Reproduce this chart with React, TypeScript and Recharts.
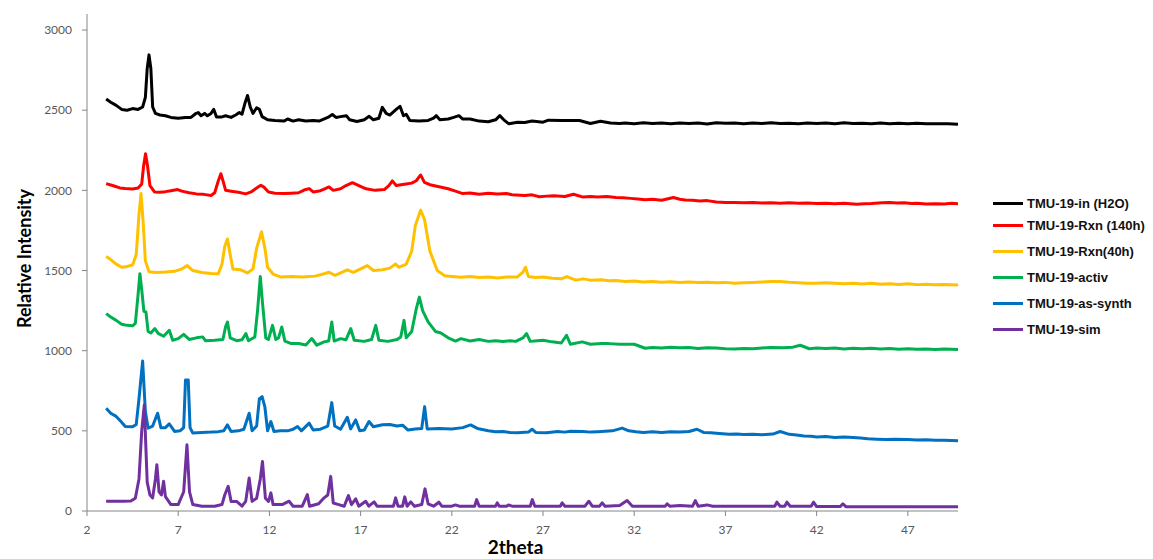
import React from 'react'
import { LineChart, Line, XAxis, YAxis } from 'recharts'

// 2theta / intensity pairs
const inH2O: [number, number][] = [
  [3.05, 2570], [3.3, 2550], [3.6, 2530], [3.9, 2505], [4.2, 2500], [4.5, 2510], [4.8, 2505],
  [5.05, 2520], [5.2, 2580], [5.3, 2760], [5.4, 2845], [5.5, 2760], [5.6, 2520], [5.75, 2480],
  [6.0, 2470], [6.3, 2465], [6.6, 2455], [7.0, 2450], [7.4, 2455], [7.7, 2455], [7.95, 2478],
  [8.1, 2485], [8.25, 2465], [8.45, 2480], [8.6, 2465], [8.8, 2480], [8.95, 2505], [9.1, 2458],
  [9.4, 2458], [9.6, 2465], [9.9, 2455], [10.15, 2470], [10.35, 2485], [10.5, 2475], [10.65, 2540],
  [10.8, 2592], [10.95, 2520], [11.1, 2480], [11.3, 2515], [11.45, 2505], [11.6, 2460], [11.9, 2440],
  [12.3, 2435], [12.8, 2432], [13.0, 2445], [13.3, 2432], [13.6, 2440], [14.0, 2432], [14.4, 2436],
  [14.72, 2432], [15.2, 2455], [15.45, 2473], [15.65, 2455], [15.9, 2460], [16.22, 2466], [16.4, 2440],
  [16.8, 2430], [17.2, 2440], [17.47, 2462], [17.7, 2440], [18.0, 2450], [18.19, 2518], [18.4, 2480],
  [18.6, 2470], [18.8, 2490], [19.0, 2510], [19.16, 2524], [19.35, 2465], [19.5, 2475], [19.7, 2435],
  [20.2, 2432], [20.7, 2436], [21.0, 2450], [21.15, 2466], [21.35, 2440], [21.8, 2445], [22.1, 2455],
  [22.39, 2466], [22.6, 2445], [23.0, 2445], [23.5, 2432], [24.0, 2428], [24.4, 2440], [24.63, 2466],
  [24.85, 2440], [25.13, 2415], [25.6, 2425], [26.0, 2423], [26.4, 2433], [27.0, 2425], [27.3, 2438],
  [28.0, 2436], [29.0, 2436], [29.6, 2417], [30.15, 2431], [30.7, 2420], [31.2, 2417], [31.5, 2420],
  [32.0, 2416], [32.5, 2421], [33.0, 2417], [33.5, 2420], [34.0, 2416], [34.5, 2420], [35.0, 2417],
  [35.5, 2420], [36.0, 2414], [36.5, 2422], [37.0, 2418], [37.5, 2420], [38.0, 2416], [38.5, 2420],
  [39.0, 2417], [39.5, 2421], [40.0, 2417], [40.5, 2419], [41.0, 2416], [41.5, 2420], [42.0, 2417],
  [42.5, 2420], [43.0, 2416], [43.5, 2421], [44.0, 2417], [44.5, 2419], [45.0, 2416], [45.5, 2420],
  [46.0, 2416], [46.5, 2419], [47.0, 2415], [47.5, 2418], [48.0, 2415], [48.5, 2416], [49.2, 2415],
  [49.75, 2413],
]

const rxn140h: [number, number][] = [
  [3.05, 2042], [3.4, 2030], [3.8, 2015], [4.1, 2011], [4.5, 2008], [4.8, 2015], [5.0, 2040],
  [5.1, 2150], [5.21, 2228], [5.32, 2150], [5.45, 2030], [5.7, 1990], [6.0, 1988], [6.3, 1992],
  [6.6, 1998], [6.97, 2005], [7.2, 1995], [7.6, 1985], [8.0, 1978], [8.4, 1975], [8.8, 1968],
  [9.0, 1985], [9.2, 2060], [9.34, 2104], [9.48, 2050], [9.6, 2000], [9.9, 1995], [10.3, 1988],
  [10.7, 1978], [11.0, 1990], [11.3, 2015], [11.53, 2032], [11.7, 2020], [11.95, 1990], [12.3, 1982],
  [12.8, 1980], [13.2, 1982], [13.6, 1985], [13.9, 2002], [14.18, 2011], [14.4, 1990], [14.8, 1998],
  [15.0, 2008], [15.27, 2021], [15.5, 2000], [15.9, 2010], [16.2, 2030], [16.55, 2048], [16.9, 2030],
  [17.3, 2010], [17.8, 2000], [18.3, 2005], [18.55, 2030], [18.74, 2059], [18.95, 2030], [19.4, 2038],
  [19.8, 2045], [20.05, 2060], [20.29, 2096], [20.5, 2050], [20.8, 2035], [21.3, 2022], [21.8, 2010],
  [22.2, 1995], [22.6, 1980], [23.0, 1983], [23.5, 1976], [24.0, 1982], [24.5, 1978], [25.0, 1980],
  [25.3, 1973], [26.0, 1968], [26.4, 1972], [26.8, 1960], [27.2, 1964], [27.6, 1966], [28.2, 1962],
  [28.67, 1976], [29.2, 1958], [29.6, 1962], [30.0, 1958], [30.5, 1961], [31.0, 1956], [31.4, 1954],
  [31.8, 1950], [32.2, 1946], [32.6, 1942], [33.0, 1944], [33.5, 1938], [34.15, 1955], [34.5, 1945],
  [34.8, 1940], [35.2, 1938], [35.6, 1934], [36.0, 1936], [36.5, 1928], [37.0, 1924], [37.5, 1925],
  [38.0, 1923], [38.5, 1924], [39.0, 1921], [39.5, 1922], [40.0, 1920], [40.5, 1922], [41.0, 1919],
  [41.5, 1921], [42.0, 1918], [42.5, 1919], [43.0, 1917], [43.5, 1920], [44.2, 1914], [44.6, 1917],
  [45.0, 1918], [45.6, 1922], [46.0, 1924], [46.4, 1921], [46.8, 1922], [47.2, 1918], [47.5, 1920],
  [48.0, 1915], [48.5, 1917], [49.0, 1915], [49.4, 1919], [49.75, 1917],
]

const rxn40h: [number, number][] = [
  [3.05, 1587], [3.3, 1568], [3.6, 1540], [3.9, 1520], [4.2, 1525], [4.5, 1535], [4.7, 1600],
  [4.85, 1850], [4.96, 1980], [5.08, 1800], [5.2, 1560], [5.4, 1492], [5.8, 1488], [6.3, 1490],
  [6.8, 1495], [7.2, 1510], [7.5, 1531], [7.8, 1500], [8.3, 1488], [8.8, 1482], [9.2, 1480],
  [9.4, 1540], [9.55, 1650], [9.7, 1697], [9.85, 1600], [10.0, 1510], [10.4, 1505], [10.8, 1485],
  [11.1, 1510], [11.3, 1640], [11.57, 1742], [11.75, 1640], [11.9, 1520], [12.2, 1478], [12.6, 1460],
  [13.2, 1462], [13.8, 1460], [14.5, 1465], [15.0, 1480], [15.27, 1489], [15.6, 1470], [16.0, 1490],
  [16.27, 1504], [16.6, 1488], [17.0, 1510], [17.37, 1531], [17.7, 1500], [18.2, 1505], [18.6, 1515],
  [18.92, 1541], [19.1, 1520], [19.5, 1540], [19.8, 1620], [20.0, 1780], [20.29, 1877], [20.5, 1820],
  [20.8, 1620], [21.2, 1500], [21.6, 1468], [22.0, 1463], [22.5, 1458], [23.0, 1462], [23.5, 1456],
  [24.0, 1460], [24.5, 1454], [25.0, 1459], [25.6, 1460], [25.9, 1490], [26.04, 1520], [26.2, 1462],
  [26.6, 1456], [27.0, 1460], [27.5, 1452], [28.0, 1448], [28.3, 1462], [28.8, 1440], [29.2, 1448],
  [29.6, 1440], [30.2, 1442], [30.6, 1436], [31.0, 1438], [31.5, 1432], [32.0, 1434], [32.5, 1429],
  [33.0, 1431], [33.5, 1427], [34.0, 1430], [34.5, 1426], [35.0, 1429], [35.5, 1425], [36.0, 1427],
  [36.5, 1423], [37.0, 1426], [37.5, 1421], [38.0, 1423], [38.5, 1426], [39.0, 1428], [39.5, 1431],
  [40.0, 1432], [40.5, 1427], [41.0, 1424], [41.5, 1421], [42.0, 1420], [42.5, 1423], [43.0, 1421],
  [43.5, 1417], [44.0, 1420], [44.5, 1416], [45.0, 1420], [45.5, 1415], [46.0, 1417], [46.5, 1413],
  [47.0, 1418], [47.5, 1412], [48.0, 1414], [48.5, 1411], [49.0, 1413], [49.75, 1410],
]

const activ: [number, number][] = [
  [3.05, 1231], [3.3, 1210], [3.6, 1189], [3.9, 1165], [4.2, 1158], [4.5, 1155], [4.65, 1170],
  [4.8, 1350], [4.9, 1480], [5.0, 1380], [5.12, 1245], [5.23, 1241], [5.35, 1120], [5.5, 1110],
  [5.72, 1138], [5.9, 1108], [6.2, 1090], [6.51, 1127], [6.7, 1065], [7.0, 1075], [7.3, 1102],
  [7.6, 1070], [8.0, 1080], [8.34, 1086], [8.5, 1062], [9.0, 1065], [9.45, 1070], [9.6, 1150],
  [9.7, 1179], [9.85, 1080], [10.2, 1062], [10.5, 1068], [10.71, 1107], [10.85, 1062], [11.2, 1085],
  [11.35, 1250], [11.5, 1462], [11.62, 1300], [11.8, 1080], [11.95, 1070], [12.17, 1158], [12.35, 1070],
  [12.5, 1080], [12.68, 1148], [12.85, 1060], [13.2, 1044], [13.6, 1045], [14.0, 1036], [14.32, 1076],
  [14.6, 1034], [15.0, 1055], [15.25, 1060], [15.42, 1179], [15.55, 1060], [15.9, 1075], [16.2, 1068],
  [16.46, 1138], [16.65, 1065], [17.2, 1058], [17.6, 1070], [17.83, 1158], [18.0, 1065], [18.5, 1058],
  [19.0, 1070], [19.2, 1085], [19.38, 1189], [19.5, 1080], [19.8, 1120], [20.05, 1260], [20.22, 1334],
  [20.4, 1250], [20.7, 1180], [21.1, 1120], [21.4, 1110], [21.8, 1080], [22.2, 1060], [22.5, 1075],
  [23.0, 1060], [23.5, 1070], [24.0, 1058], [24.4, 1062], [24.8, 1057], [25.2, 1062], [25.5, 1058],
  [25.9, 1080], [26.1, 1107], [26.3, 1058], [26.7, 1062], [27.0, 1065], [27.5, 1055], [28.0, 1048],
  [28.29, 1096], [28.5, 1040], [29.15, 1055], [29.6, 1040], [30.2, 1045], [30.61, 1044], [31.2, 1040],
  [32.0, 1040], [32.6, 1015], [33.0, 1020], [33.5, 1016], [34.0, 1022], [34.5, 1018], [35.0, 1020],
  [35.5, 1014], [36.0, 1019], [36.5, 1016], [37.0, 1012], [37.5, 1010], [38.0, 1014], [38.5, 1012],
  [39.0, 1017], [39.5, 1020], [40.2, 1018], [40.7, 1022], [41.1, 1034], [41.6, 1012], [42.0, 1016],
  [42.5, 1013], [43.0, 1016], [43.5, 1011], [44.0, 1015], [44.5, 1012], [45.0, 1015], [45.5, 1010],
  [46.0, 1014], [46.5, 1009], [47.0, 1012], [47.5, 1009], [48.0, 1011], [48.5, 1007], [49.0, 1010],
  [49.75, 1007],
]

const asSynth: [number, number][] = [
  [3.05, 641], [3.3, 610], [3.6, 590], [3.85, 560], [4.1, 527], [4.5, 525], [4.7, 540],
  [4.85, 700], [5.05, 935], [5.2, 620], [5.35, 517], [5.6, 530], [5.87, 610], [6.05, 520],
  [6.3, 520], [6.51, 543], [6.8, 496], [7.1, 500], [7.3, 520], [7.4, 817], [7.55, 817],
  [7.65, 520], [7.8, 486], [8.3, 490], [8.8, 492], [9.2, 495], [9.5, 500], [9.7, 537],
  [9.9, 496], [10.3, 500], [10.6, 510], [10.89, 610], [11.05, 500], [11.3, 530], [11.45, 700],
  [11.6, 713], [11.75, 650], [11.9, 500], [12.08, 558], [12.25, 496], [12.6, 500], [13.0, 500],
  [13.3, 510], [13.54, 527], [13.75, 500], [14.18, 548], [14.4, 505], [14.8, 510], [15.2, 530],
  [15.42, 676], [15.58, 530], [15.9, 510], [16.27, 585], [16.45, 512], [16.73, 568], [16.95, 500],
  [17.2, 505], [17.46, 558], [17.7, 525], [18.2, 538], [18.6, 540], [19.0, 530], [19.3, 535],
  [19.6, 505], [20.0, 512], [20.35, 515], [20.51, 651], [20.65, 512], [21.3, 515], [22.0, 512],
  [22.6, 520], [23.03, 537], [23.4, 515], [24.0, 500], [24.4, 494], [24.8, 496], [25.2, 490],
  [25.6, 488], [26.2, 492], [26.4, 510], [26.6, 490], [27.2, 488], [27.8, 496], [28.2, 492],
  [28.5, 498], [29.2, 496], [29.6, 492], [30.0, 494], [30.4, 497], [30.8, 500], [31.34, 517],
  [31.7, 500], [32.1, 494], [32.5, 490], [33.0, 494], [33.5, 490], [34.0, 495], [34.5, 492],
  [35.0, 496], [35.44, 510], [35.8, 490], [36.2, 488], [36.5, 485], [37.2, 478], [37.6, 481],
  [38.0, 477], [38.5, 479], [39.0, 476], [39.6, 480], [40.0, 496], [40.5, 478], [40.9, 474],
  [41.3, 468], [41.7, 466], [42.0, 462], [42.5, 464], [43.0, 458], [43.5, 461], [44.0, 458],
  [44.4, 455], [44.8, 450], [45.3, 448], [45.8, 446], [46.3, 448], [47.0, 446], [47.5, 443],
  [48.0, 444], [48.5, 441], [49.0, 442], [49.75, 438],
]

const simulated: [number, number][] = [
  [3.05, 61], [3.5, 61], [4.0, 61], [4.4, 62], [4.65, 80], [4.85, 200], [5.0, 500], [5.14, 661],
  [5.3, 180], [5.45, 100], [5.6, 82], [5.75, 200], [5.83, 289], [5.95, 120], [6.08, 100], [6.2, 185],
  [6.3, 90], [6.6, 40], [7.0, 40], [7.3, 120], [7.48, 413], [7.62, 120], [7.8, 40], [8.3, 30],
  [9.0, 30], [9.4, 40], [9.55, 100], [9.74, 154], [9.9, 60], [10.2, 60], [10.5, 30], [10.7, 60],
  [10.89, 206], [11.05, 60], [11.3, 80], [11.5, 200], [11.62, 309], [11.78, 80], [11.95, 60],
  [12.08, 113], [12.2, 40], [12.7, 40], [13.08, 61], [13.3, 30], [13.8, 30], [14.08, 102], [14.2, 30],
  [14.7, 45], [15.0, 82], [15.2, 100], [15.36, 216], [15.5, 50], [15.8, 40], [16.1, 30], [16.33, 96],
  [16.5, 40], [16.73, 76], [16.9, 30], [17.28, 61], [17.45, 30], [17.74, 57], [17.9, 30], [18.8, 30],
  [18.92, 82], [19.05, 30], [19.3, 30], [19.42, 88], [19.55, 30], [19.75, 57], [19.95, 30], [20.35, 40],
  [20.53, 138], [20.7, 45], [21.0, 30], [21.29, 55], [21.45, 30], [22.0, 30], [22.2, 38], [22.4, 30],
  [23.25, 30], [23.36, 71], [23.5, 30], [24.4, 30], [24.49, 51], [24.6, 30], [25.0, 30], [25.1, 38],
  [25.3, 30], [26.3, 30], [26.41, 71], [26.55, 30], [27.95, 30], [28.05, 51], [28.2, 30], [29.3, 30],
  [29.51, 61], [29.7, 30], [30.1, 30], [30.24, 51], [30.4, 30], [31.2, 35], [31.61, 65], [31.9, 30],
  [33.7, 30], [33.8, 45], [33.95, 30], [34.5, 35], [35.2, 30], [35.35, 65], [35.5, 30], [36.0, 38],
  [36.3, 30], [39.7, 30], [39.82, 55], [40.0, 30], [40.25, 30], [40.37, 55], [40.55, 30], [41.7, 30],
  [41.83, 55], [42.0, 28], [43.3, 28], [43.44, 45], [43.6, 27], [49.75, 26],
]

const xTicks = [2, 7, 12, 17, 22, 27, 32, 37, 42, 47]
const yTicks = [0, 500, 1000, 1500, 2000, 2500, 3000]

const series = [
  { name: 'TMU-19-in (H2O)', color: '#000000', points: inH2O },
  { name: 'TMU-19-Rxn (140h)', color: '#FF0000', points: rxn140h },
  { name: 'TMU-19-Rxn(40h)', color: '#FFC000', points: rxn40h },
  { name: 'TMU-19-activ', color: '#00B050', points: activ },
  { name: 'TMU-19-as-synth', color: '#0070C0', points: asSynth },
  { name: 'TMU-19-sim', color: '#7030A0', points: simulated },
]

// legend rows sit a bit unevenly in the original
const legendTops = [195, 217, 243, 269, 295, 321]

const axisFont = { fill: '#595959', fontSize: 12, fontFamily: 'Lato, sans-serif' }

function App() {
  return (
    <div style={{ position: 'relative', width: 1137, height: 551 }}>
      <LineChart width={1137} height={551} margin={{ top: 6, right: 187, bottom: 0, left: 0 }}>
        <XAxis
          dataKey="x"
          type="number"
          domain={[2, 49.75]}
          ticks={xTicks}
          allowDataOverflow
          height={48}
          tick={axisFont}
          tickSize={5}
          tickMargin={9}
          axisLine={{ stroke: '#868686' }}
          tickLine={{ stroke: '#868686' }}
          label={{
            value: '2theta',
            position: 'insideBottom',
            offset: 5,
            dx: -7,
            style: { fill: '#000', fontSize: 19, fontWeight: 700, fontFamily: 'Lato, sans-serif' },
          }}
        />
        <YAxis
          type="number"
          domain={[0, 3100]}
          ticks={yTicks}
          width={79}
          tick={axisFont}
          tickSize={5}
          tickMargin={10}
          axisLine={{ stroke: '#868686' }}
          tickLine={{ stroke: '#868686' }}
          label={{
            value: 'Relative Intensity',
            angle: -90,
            position: 'insideLeft',
            offset: 17,
            dy: -4,
            style: { textAnchor: 'middle', fill: '#000', fontSize: 18, fontWeight: 700, fontFamily: 'Lato, sans-serif' },
          }}
        />
        {series.map((s) => (
          <Line
            key={s.name}
            name={s.name}
            data={s.points.map(([x, y]) => ({ x, y }))}
            dataKey="y"
            type="linear"
            stroke={s.color}
            strokeWidth={3}
            strokeLinejoin="round"
            dot={false}
            isAnimationActive={false}
          />
        ))}
      </LineChart>

      {series.map((s, i) => (
        <div
          key={s.name}
          style={{
            position: 'absolute',
            left: 985,
            top: legendTops[i] - 9,
            height: 18,
            display: 'flex',
            alignItems: 'center',
            fontFamily: '"Liberation Sans", Arial, sans-serif',
            fontWeight: 700,
            fontSize: 13,
            color: '#111',
            whiteSpace: 'nowrap',
          }}
        >
          <span style={{ display: 'inline-block', width: 30, height: 3, background: s.color, marginRight: 4 }} />
          {s.name}
        </div>
      ))}
    </div>
  )
}

export default App
